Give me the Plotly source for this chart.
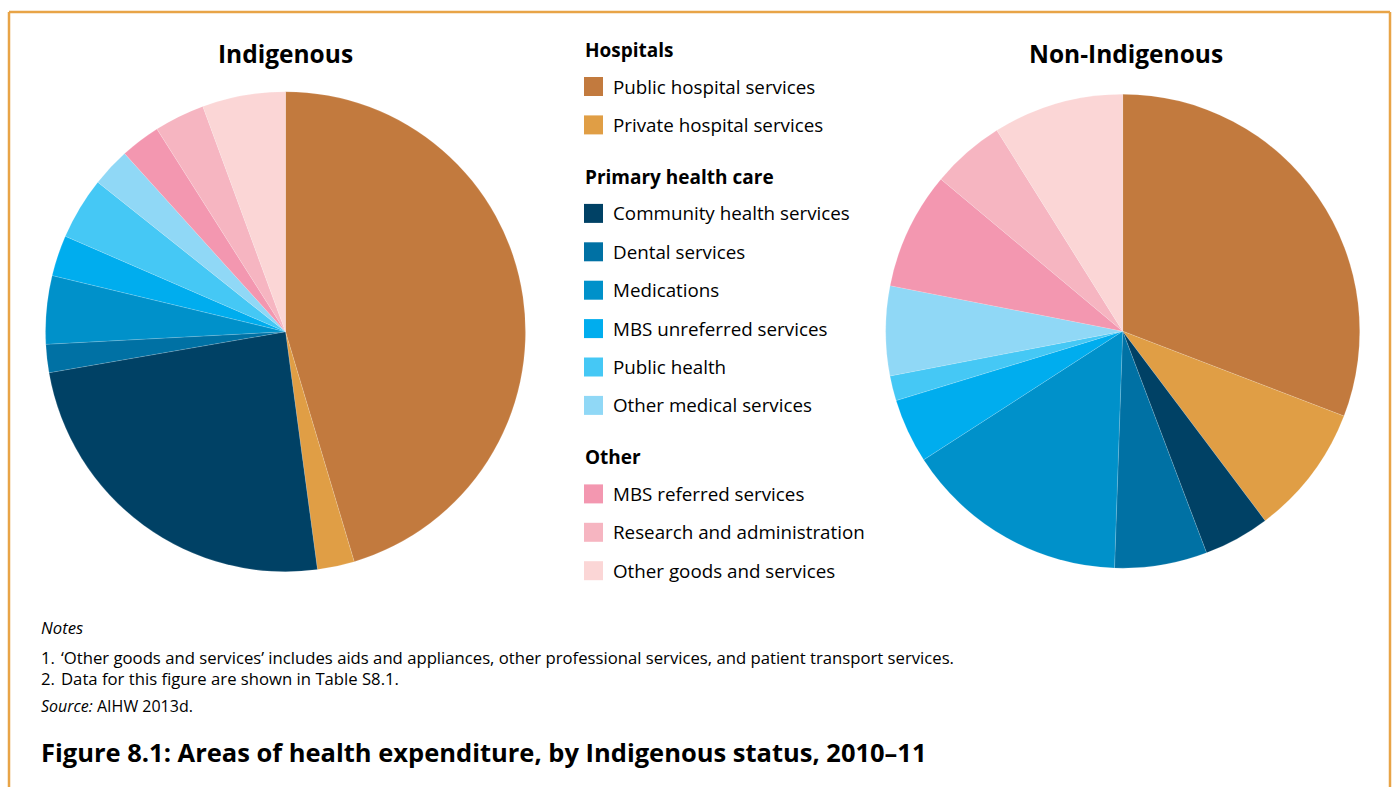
import plotly.graph_objects as go

W, H = 1394, 787

# Expenditure categories, in slice order (clockwise from 12 o'clock)
categories = [
    "Public hospital services",
    "Private hospital services",
    "Community health services",
    "Dental services",
    "Medications",
    "MBS unreferred services",
    "Public health",
    "Other medical services",
    "MBS referred services",
    "Research and administration",
    "Other goods and services",
]

# Share of health expenditure (%), 2010–11
indigenous = [45.4, 2.5, 24.4, 1.9, 4.6, 2.75, 4.2, 2.6, 2.7, 3.4, 5.6]
non_indigenous = [30.8, 8.9, 4.5, 6.3, 15.3, 4.4, 1.7, 6.1, 8.0, 5.0, 8.9]

colors = [
    "#C27A3E", "#E09E45",
    "#004165", "#0071A4", "#0091CA", "#00ADEE", "#45C8F5", "#90D8F6",
    "#F397B0", "#F6B5C1", "#FBD6D6",
]

# Legend groups: header followed by its member categories
legend_groups = [
    ("Hospitals", categories[0:2]),
    ("Primary health care", categories[2:8]),
    ("Other", categories[8:11]),
]

notes = [
    "1.",
    "2.",
]
note_texts = [
    "\u2018Other goods and services\u2019 includes aids and appliances, other professional services, and patient transport services.",
    "Data for this figure are shown in Table S8.1.",
]
source_text = "AIHW 2013d."
figure_title = "Figure 8.1: Areas of health expenditure, by Indigenous status, 2010\u201311"

FONT = "Open Sans"


def px_x(x):
    return x / W


def px_y(y):
    return 1 - y / H


def pie_domain(cx, cy, r):
    return dict(x=[px_x(cx - r), px_x(cx + r)], y=[px_y(cy + r), px_y(cy - r)])


fig = go.Figure()

for vals, (cx, cy, r), name in [
    (indigenous, (285.5, 331.7, 240), "Indigenous"),
    (non_indigenous, (1122.7, 331.2, 237), "Non-Indigenous"),
]:
    fig.add_trace(go.Pie(
        labels=categories,
        values=vals,
        name=name,
        sort=False,
        direction="clockwise",
        rotation=0,
        textinfo="none",
        hoverinfo="label+percent",
        showlegend=False,
        marker=dict(colors=colors, line=dict(color="rgba(255,255,255,0.35)", width=0.4)),
        domain=pie_domain(cx, cy, r),
    ))

annotations = []
shapes = []

# Pie titles
for text, cx in [("Indigenous", 285.5), ("Non-Indigenous", 1126)]:
    annotations.append(dict(
        text=f"<b>{text}</b>", x=px_x(cx), y=px_y(54), xref="paper", yref="paper",
        xanchor="center", yanchor="middle", showarrow=False,
        font=dict(family=FONT, size=24.5, color="#000000"),
    ))

# Grouped legend
color_of = dict(zip(categories, colors))
lx, tx = 584, 613
y = 50
row = 38.4
for gi, (header, members) in enumerate(legend_groups):
    if gi > 0:
        y += 52
    annotations.append(dict(
        text=f"<b>{header}</b>", x=px_x(lx - 1), y=px_y(y), xref="paper", yref="paper",
        xanchor="left", yanchor="middle", showarrow=False,
        font=dict(family=FONT, size=19, color="#000000"),
    ))
    y += 36.5
    for i, cat in enumerate(members):
        if i > 0:
            y += row
        shapes.append(dict(
            type="rect", xref="paper", yref="paper",
            x0=px_x(lx), x1=px_x(lx + 19), y0=px_y(y - 9.5), y1=px_y(y + 9.5),
            fillcolor=color_of[cat], line=dict(width=0),
        ))
        annotations.append(dict(
            text=cat, x=px_x(tx - 2), y=px_y(y), xref="paper", yref="paper",
            xanchor="left", yanchor="middle", showarrow=False,
            font=dict(family=FONT, size=18.8, color="#000000"),
        ))

# Notes and source
note_font = dict(family=FONT, size=16.7, color="#000000")
annotations.append(dict(
    text="<i>Notes</i>", x=px_x(39), y=px_y(627), xref="paper", yref="paper",
    xanchor="left", yanchor="middle", showarrow=False, font=note_font,
))
for i, (num, txt) in enumerate(zip(notes, note_texts)):
    yy = 657 + i * 21
    annotations.append(dict(
        text=num, x=px_x(39), y=px_y(yy), xref="paper", yref="paper",
        xanchor="left", yanchor="middle", showarrow=False, font=note_font,
    ))
    annotations.append(dict(
        text=txt, x=px_x(59), y=px_y(yy), xref="paper", yref="paper",
        xanchor="left", yanchor="middle", showarrow=False, font=note_font,
    ))
annotations.append(dict(
    text=f"<i>Source:</i> {source_text}", x=px_x(39), y=px_y(706), xref="paper", yref="paper",
    xanchor="left", yanchor="middle", showarrow=False,
    font=dict(family=FONT, size=16, color="#000000"),
))

# Figure caption
annotations.append(dict(
    text=f"<b>{figure_title}</b>", x=px_x(39), y=px_y(752), xref="paper", yref="paper",
    xanchor="left", yanchor="middle", showarrow=False,
    font=dict(family=FONT, size=25.5, color="#000000"),
))

# Orange frame (top, left, right)
frame = dict(color="#E8A447", width=2.5)
shapes += [
    dict(type="line", xref="paper", yref="paper", x0=px_x(9), x1=px_x(1390), y0=px_y(12), y1=px_y(12), line=frame),
    dict(type="line", xref="paper", yref="paper", x0=px_x(9), x1=px_x(9), y0=px_y(12), y1=0, line=frame),
    dict(type="line", xref="paper", yref="paper", x0=px_x(1390), x1=px_x(1390), y0=px_y(12), y1=0, line=frame),
]

fig.update_layout(
    width=W, height=H,
    margin=dict(l=0, r=0, t=0, b=0),
    paper_bgcolor="#FFFFFF",
    plot_bgcolor="#FFFFFF",
    annotations=annotations,
    shapes=shapes,
    showlegend=False,
)

fig.write_html("out.html", config={"displayModeBar": False})
